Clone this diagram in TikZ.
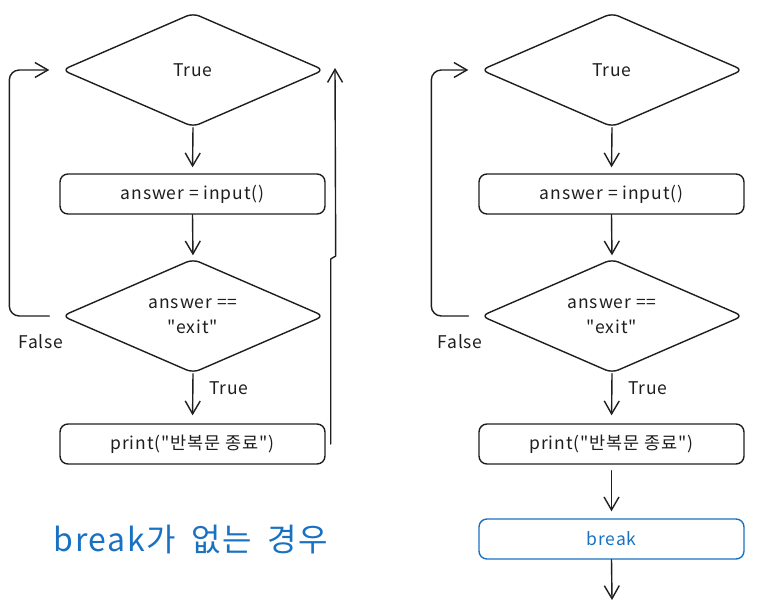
\documentclass[tikz,border=0pt]{standalone}
\usepackage{fontspec}
\setmainfont{Noto Sans CJK KR}[Ligatures=TeXOff, LetterSpace=5]
\usetikzlibrary{shapes.geometric,arrows.meta}
\definecolor{xblue}{HTML}{1971C2}
\definecolor{ink}{HTML}{1E1E1E}
\begin{document}
\begin{tikzpicture}[x=1pt,y=-1pt,
  every node/.style={font=\fontsize{17.5}{25}\selectfont, text=ink},
  dia/.style={diamond, shape aspect=2.3, draw=ink, line width=1.4pt, rounded corners=7pt, minimum width=262pt, minimum height=114pt, inner sep=0pt, align=center},
  box/.style={rectangle, draw=ink, line width=1.4pt, rounded corners=8pt, minimum width=265pt, minimum height=40pt, inner sep=0pt},
  arr/.style={draw=ink, line width=1.4pt, line cap=round, line join=round, -{Straight Barb[length=13pt,width=15pt,line width=1.4pt]}},
  lbl/.style={inner sep=0pt}]
\useasboundingbox (0,0) rectangle (759,610);

% ---------- left diagram ----------
\node[dia] (L1d) at (193,70) {True};
\node[box] (L1b) at (192.5,194) {answer = input()};
\node[dia] (L2d) at (193,316) {answer ==\\"exit"};
\node[box] (L2b) at (192.5,444) {print("반복문 종료")};
\node[lbl] (Lfalse) at (41,342) {False};
\node[lbl] (Ltrue) at (229,388) {True};
\coordinate (Lret) at (335,68);

\draw[arr, shorten >=6pt] (L1d.south) -- (L1b.north);
\draw[arr, shorten >=3pt] (L1b.south) -- (L2d.north);
\draw[arr, shorten >=8pt] (L2d.south) -- (L2b.north);
\draw[arr, rounded corners=10pt] ([xshift=-12pt]L2d.west) -- ++(-40,0) |- ([xshift=-12pt]L1d.west);
\draw[arr] ([xshift=5pt]L2b.east) -- ++(0,-185) -- ++(5,-3) -- (Lret);

\node[text=xblue, font=\fontsize{32}{36}\selectfont] (title) at (191,540) {break가\hspace{7pt} 없는\hspace{7pt} 경우};

% ---------- right diagram ----------
\node[dia] (R1d) at (612,70) {True};
\node[box] (R1b) at (611.5,194) {answer = input()};
\node[dia] (R2d) at (612,316) {answer ==\\"exit"};
\node[box] (R2b) at (611.5,444) {print("반복문 종료")};
\node[box, draw=xblue, text=xblue] (R3b) at (611.5,539) {break};
\node[lbl] (Rfalse) at (460,342) {False};
\node[lbl] (Rtrue) at (648,388) {True};
\coordinate (Rend) at (612,600);

\draw[arr, shorten >=6pt] (R1d.south) -- (R1b.north);
\draw[arr, shorten >=3pt] (R1b.south) -- (R2d.north);
\draw[arr, shorten >=8pt] (R2d.south) -- (R2b.north);
\draw[arr, rounded corners=10pt] ([xshift=-12pt]R2d.west) -- ++(-37,0) |- ([xshift=-12pt]R1d.west);
\draw[arr, shorten <=6pt, shorten >=7pt] (R2b.south) -- (R3b.north);
\draw[arr] (R3b.south) -- (Rend);
\end{tikzpicture}
\end{document}
